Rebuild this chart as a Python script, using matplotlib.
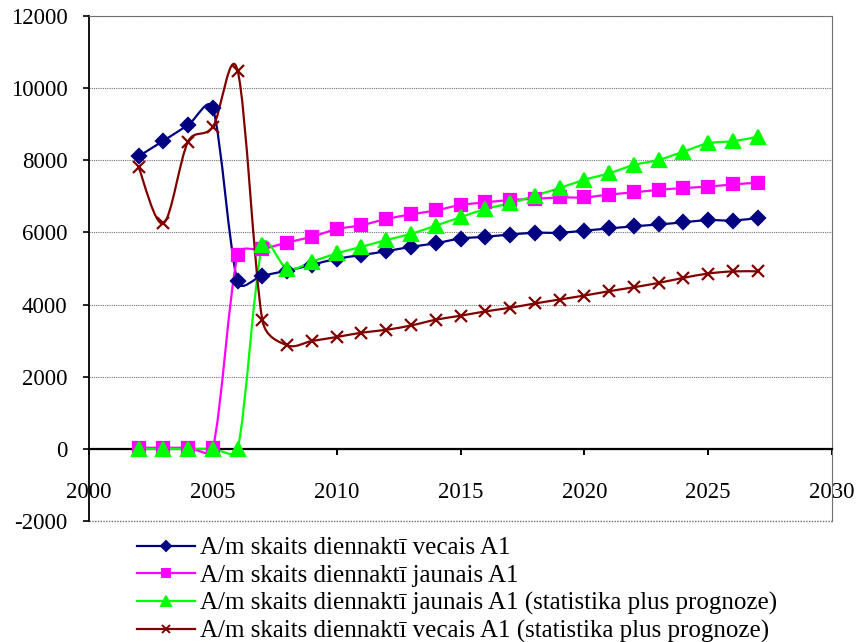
import numpy as np
import matplotlib
matplotlib.use("Agg")
import matplotlib.pyplot as plt
from matplotlib.path import Path
from matplotlib.patches import PathPatch
from matplotlib.lines import Line2D

plt.rcParams["font.family"] = ["Liberation Serif", "DejaVu Serif"]
plt.rcParams["axes.unicode_minus"] = False

years = list(range(2002, 2028))

vecais = [8110, 8540, 8980, 9440, 4640, 4800, 4940, 5100, 5270, 5370,
          5480, 5600, 5700, 5830, 5880, 5940, 5990, 5990, 6050, 6110,
          6170, 6220, 6280, 6340, 6330, 6400]
jaunais = [30, 30, 30, 30, 5360, 5530, 5720, 5880, 6090, 6200,
           6370, 6500, 6610, 6760, 6830, 6900, 6930, 6970, 6970, 7050,
           7110, 7180, 7230, 7270, 7330, 7380]
jaunais_stat = [0, 0, 0, 0, 0, 5640, 4990, 5190, 5420, 5600,
                5790, 5960, 6190, 6420, 6650, 6810, 7020, 7230, 7460, 7640,
                7870, 8010, 8240, 8470, 8530, 8650]
vecais_stat = [7810, 6250, 8520, 8930, 10480, 3560, 2870, 2990, 3100, 3220,
               3300, 3420, 3580, 3690, 3810, 3910, 4030, 4140, 4250, 4370,
               4480, 4600, 4740, 4860, 4920, 4920]

labels = [
    "A/m skaits diennaktī vecais A1",
    "A/m skaits diennaktī jaunais A1",
    "A/m skaits diennaktī jaunais A1 (statistika plus prognoze)",
    "A/m skaits diennaktī vecais A1 (statistika plus prognoze)",
]
colors = ["#000080", "#FF00FF", "#00FF00", "#800000"]
markers = ["D", "s", "^", "x"]
msizes = [7.5, 9, 10.5, 8.5]


def smooth_path(ax, xs, ys):
    # bezier curve through the points, control arms limited to half a segment
    pts = ax.transData.transform(np.column_stack([xs, ys]))
    n = len(pts)
    verts = [pts[0]]
    codes = [Path.MOVETO]
    for i in range(n - 1):
        p0 = pts[max(i - 1, 0)]
        p1 = pts[i]
        p2 = pts[i + 1]
        p3 = pts[min(i + 2, n - 1)]
        d12 = np.hypot(*(p2 - p1))
        d02 = np.hypot(*(p2 - p0))
        d13 = np.hypot(*(p3 - p1))
        f1 = min(1 / 6, d12 / 2 / d02) if d02 > 0 else 0
        f2 = min(1 / 6, d12 / 2 / d13) if d13 > 0 else 0
        verts += [p1 + f1 * (p2 - p0), p2 - f2 * (p3 - p1), p2]
        codes += [Path.CURVE4] * 3
    verts = ax.transData.inverted().transform(np.array(verts))
    return Path(verts, codes)


fig = plt.figure(figsize=(8.57, 6.42), dpi=100)
ax = fig.add_axes([0.1039, 0.1885, 0.867, 0.7866])
ax.set_xlim(2000, 2030)
ax.set_ylim(-2000, 12000)
ax.set_xticks(range(2000, 2031, 5))
ax.set_yticks(range(-2000, 12001, 2000))

dots = (0, (1, 1))
ax.grid(axis="y", linestyle=dots, color="#707070", linewidth=0.8)
ax.axhline(-2000, linestyle=dots, color="#707070", linewidth=1.0,
           clip_on=False, zorder=2)
ax.set_axisbelow(True)
for side in ["top", "right"]:
    ax.spines[side].set_linestyle(dots)
    ax.spines[side].set_color("#707070")
    ax.spines[side].set_linewidth(0.8)
ax.spines["bottom"].set_position(("data", 0))
ax.spines["bottom"].set_linewidth(1.6)
ax.spines["left"].set_linewidth(1.3)

ax.tick_params(axis="x", direction="out", length=4, width=1.4,
               labelsize=16.5, pad=20)
ax.tick_params(axis="y", direction="out", length=4.5, width=1.2,
               labelsize=16.5, pad=11)

handles = []
series = [vecais, jaunais, jaunais_stat, vecais_stat]
for vals, c, m, ms, lab in zip(series, colors, markers, msizes, labels):
    ax.add_patch(PathPatch(smooth_path(ax, years, vals), fill=False,
                           edgecolor=c, linewidth=1.6, zorder=3))
    ax.plot(years, vals, linestyle="none", marker=m, markersize=ms,
            color=c, markeredgewidth=1.6, zorder=4, clip_on=False)
    handles.append(Line2D([], [], color=c, marker=m, markersize=ms * 0.7,
                          markeredgewidth=1.4, linewidth=1.6))

fig.legend(handles=handles, labels=labels, loc="upper left",
           bbox_to_anchor=(0.160, 0.1636), frameon=False, fontsize=18,
           handlelength=2.3, handletextpad=0.2, labelspacing=0.2,
           borderpad=0, borderaxespad=0)

fig.savefig("out.png", dpi=100)
